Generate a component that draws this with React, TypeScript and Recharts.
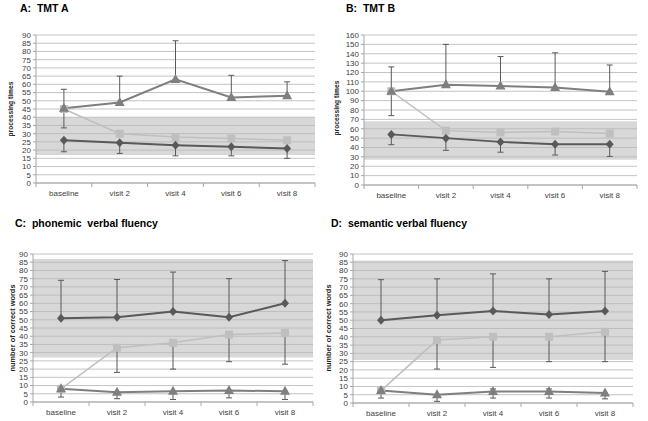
import React from "react";
import {
  ComposedChart,
  Line,
  XAxis,
  YAxis,
  CartesianGrid,
  ErrorBar,
  ReferenceArea,
} from "recharts";

const visits = ["baseline", "visit 2", "visit 4", "visit 6", "visit 8"];

const ticks90 = [0, 5, 10, 15, 20, 25, 30, 35, 40, 45, 50, 55, 60, 65, 70, 75, 80, 85, 90];
const ticks160 = [0, 10, 20, 30, 40, 50, 60, 70, 80, 90, 100, 110, 120, 130, 140, 150, 160];

// A: TMT A   (errors are [down, up])
const tmtATri = [45.5, 49, 63, 52, 53];
const tmtATriErr = [[0, 11.5], [0, 16], [0, 23.5], [0, 13.5], [0, 8.5]];
const tmtASq = [45, 30, 28, 27, 26];
const tmtASqErr = [[11.5, 0], [0, 0], [0, 0], [0, 0], [0, 0]];
const tmtADia = [26, 24.5, 23, 22, 21];
const tmtADiaErr = [[7, 0], [6.5, 0], [6.5, 0], [5.5, 0], [6, 0]];
const tmtAShade = [17, 40];

// B: TMT B
const tmtBTri = [100, 107, 105.5, 104, 99.5];
const tmtBTriErr = [[0, 26], [0, 43], [0, 31.5], [0, 37], [0, 28.5]];
const tmtBSq = [100, 58, 56, 57, 55];
const tmtBSqErr = [[26, 0], [0, 0], [0, 0], [0, 0], [0, 0]];
const tmtBDia = [54, 50, 46, 43.5, 43.5];
const tmtBDiaErr = [[11, 0], [13, 0], [11, 0], [11.5, 0], [13, 0]];
const tmtBShade = [27, 68];

// C: phonemic verbal fluency
const phonTri = [8, 6, 6.5, 7, 6.5];
const phonTriErr = [[5, 0], [4, 0], [5, 0], [4.5, 0], [5, 0]];
const phonSq = [8, 33, 36, 41, 42];
const phonSqErr = [[0, 0], [15, 0], [16, 0], [16.5, 0], [19, 0]];
const phonDia = [51, 51.5, 55, 51.5, 60];
const phonDiaErr = [[0, 23], [0, 23], [0, 24], [0, 23.5], [0, 26]];
const phonShade = [27, 87];

// D: semantic verbal fluency
const semTri = [7.5, 5, 7, 7, 6];
const semTriErr = [[4.5, 0], [4, 0], [4, 1.5], [4, 1.5], [3.5, 0]];
const semSq = [7.5, 38, 40, 40, 43];
const semSqErr = [[0, 0], [17.5, 0], [18.5, 0], [15, 0], [18, 0]];
const semDia = [50, 53, 55.5, 53.5, 55.5];
const semDiaErr = [[0, 24.5], [0, 22], [0, 22.5], [0, 21.5], [0, 24]];
const semShade = [26, 86];

const TRI = "#7f7f7f";
const SQ = "#bfbfbf";
const DIA = "#595959";
const ERR = "#595959";
const FONT = "'Liberation Sans', Arial, sans-serif";

function buildRows(tri, triErr, sq, sqErr, dia, diaErr) {
  return visits.map((v, i) => ({
    visit: v,
    tri: tri[i],
    triErr: triErr[i],
    sq: sq[i],
    sqErr: sqErr[i],
    dia: dia[i],
    diaErr: diaErr[i],
  }));
}

const triDot = (color) => (p: any) => {
  const { cx, cy, index } = p;
  if (cx == null || cy == null) return null;
  return (
    <polygon
      key={`t-${index}`}
      points={`${cx},${cy - 5.5} ${cx + 5},${cy + 3.5} ${cx - 5},${cy + 3.5}`}
      fill={color}
    />
  );
};
const sqDot = (color) => (p: any) => {
  const { cx, cy, index } = p;
  if (cx == null || cy == null) return null;
  return <rect key={`s-${index}`} x={cx - 4} y={cy - 4} width={8} height={8} fill={color} />;
};
const diaDot = (color) => (p: any) => {
  const { cx, cy, index } = p;
  if (cx == null || cy == null) return null;
  return (
    <polygon
      key={`d-${index}`}
      points={`${cx},${cy - 4.5} ${cx + 4},${cy} ${cx},${cy + 4.5} ${cx - 4},${cy}`}
      fill={color}
    />
  );
};

const makeXTick = (bw: number, count: number) => (props: any) => {
  const { x, y, payload, index } = props;
  const axisY = y - 7;
  return (
    <g>
      <line x1={x - bw / 2} x2={x - bw / 2} y1={axisY} y2={axisY + 4} stroke="#a6a6a6" />
      {index === count - 1 && (
        <line x1={x + bw / 2} x2={x + bw / 2} y1={axisY} y2={axisY + 4} stroke="#a6a6a6" />
      )}
      <text x={x} y={y} dy="0.71em" textAnchor="middle" fontSize={8} fill="#404040" fontFamily={FONT}>
        {payload.value}
      </text>
    </g>
  );
};

function Panel({ cfg }) {
  const { left, top, width, height, margin, yw, xh, data, domain, ticks, shade } = cfg;
  const plotW = width - margin.left - margin.right - yw;
  return (
    <div style={{ position: "absolute", left, top }}>
      <ComposedChart width={width} height={height} data={data} margin={margin}>
        <CartesianGrid horizontal vertical={false} stroke="#c4c4c4" />
        <ReferenceArea y1={shade[0]} y2={shade[1]} fill="#b8b8b8" fillOpacity={0.55} stroke="none" />
        <XAxis
          dataKey="visit"
          scale="band"
          height={xh}
          tickSize={4}
          tickMargin={3}
          tickLine={false}
          stroke="#a6a6a6"
          interval={0}
          tick={makeXTick(plotW / visits.length, visits.length)}
        />
        <YAxis
          domain={domain}
          ticks={ticks}
          interval={0}
          width={yw}
          tickSize={3}
          tickMargin={2}
          stroke="#a6a6a6"
          tick={{ fontSize: 8, fill: "#404040", fontFamily: FONT }}
        />
        <Line dataKey="sq" stroke={SQ} strokeWidth={1.5} dot={sqDot(SQ)} isAnimationActive={false}>
          <ErrorBar dataKey="sqErr" width={3} stroke={ERR} strokeWidth={1} direction="y" isAnimationActive={false} />
        </Line>
        <Line dataKey="dia" stroke={DIA} strokeWidth={2} dot={diaDot(DIA)} isAnimationActive={false}>
          <ErrorBar dataKey="diaErr" width={3} stroke={ERR} strokeWidth={1} direction="y" isAnimationActive={false} />
        </Line>
        <Line dataKey="tri" stroke={TRI} strokeWidth={2} dot={triDot(TRI)} isAnimationActive={false}>
          <ErrorBar dataKey="triErr" width={3} stroke={ERR} strokeWidth={1} direction="y" isAnimationActive={false} />
        </Line>
      </ComposedChart>
    </div>
  );
}

const panels = [
  {
    left: 0, top: 0, width: 324, height: 200,
    margin: { top: 35, right: 9, bottom: 0, left: 16 }, yw: 20, xh: 17,
    data: buildRows(tmtATri, tmtATriErr, tmtASq, tmtASqErr, tmtADia, tmtADiaErr),
    domain: [0, 90], ticks: ticks90, shade: tmtAShade,
  },
  {
    left: 324, top: 0, width: 324, height: 200,
    margin: { top: 35, right: 11, bottom: 0, left: 16 }, yw: 24, xh: 15,
    data: buildRows(tmtBTri, tmtBTriErr, tmtBSq, tmtBSqErr, tmtBDia, tmtBDiaErr),
    domain: [0, 160], ticks: ticks160, shade: tmtBShade,
  },
  {
    left: 0, top: 210, width: 324, height: 211,
    margin: { top: 44, right: 11, bottom: 0, left: 13 }, yw: 20, xh: 19,
    data: buildRows(phonTri, phonTriErr, phonSq, phonSqErr, phonDia, phonDiaErr),
    domain: [0, 90], ticks: ticks90, shade: phonShade,
  },
  {
    left: 324, top: 210, width: 324, height: 211,
    margin: { top: 44, right: 15, bottom: 0, left: 9 }, yw: 20, xh: 18,
    data: buildRows(semTri, semTriErr, semSq, semSqErr, semDia, semDiaErr),
    domain: [0, 90], ticks: ticks90, shade: semShade,
  },
];

const titles = [
  { text: "A:  TMT A", x: 20, y: 12 },
  { text: "B:  TMT B", x: 346, y: 12 },
  { text: "C:  phonemic  verbal fluency", x: 15, y: 227 },
  { text: "D:  semantic verbal fluency", x: 331, y: 227 },
];

const yLabels = [
  { text: "processing times", x: 10, y: 109, len: 55 },
  { text: "processing times", x: 336, y: 108, len: 55 },
  { text: "number of correct words", x: 12, y: 328, len: 87 },
  { text: "number of correct words", x: 328, y: 328, len: 87 },
];

export default function App() {
  return (
    <div style={{ position: "absolute", left: 0, top: 0, width: 648, height: 421, background: "#fff" }}>
      {panels.map((cfg, i) => (
        <Panel key={i} cfg={cfg} />
      ))}
      <svg width={648} height={421} style={{ position: "absolute", left: 0, top: 0, pointerEvents: "none" }}>
        {titles.map((t, i) => (
          <text key={i} x={t.x} y={t.y} fontSize={10.5} fontWeight="bold" fontFamily={FONT} fill="#000" style={{ whiteSpace: "pre" }}>
            {t.text}
          </text>
        ))}
        {yLabels.map((l, i) => (
          <text
            key={i}
            x={l.x}
            y={l.y}
            transform={`rotate(-90 ${l.x} ${l.y})`}
            textAnchor="middle"
            dominantBaseline="central"
            fontSize={8}
            fontWeight="bold"
            fontFamily={FONT}
            fill="#262626"
            textLength={l.len}
            lengthAdjust="spacingAndGlyphs"
          >
            {l.text}
          </text>
        ))}
      </svg>
    </div>
  );
}
